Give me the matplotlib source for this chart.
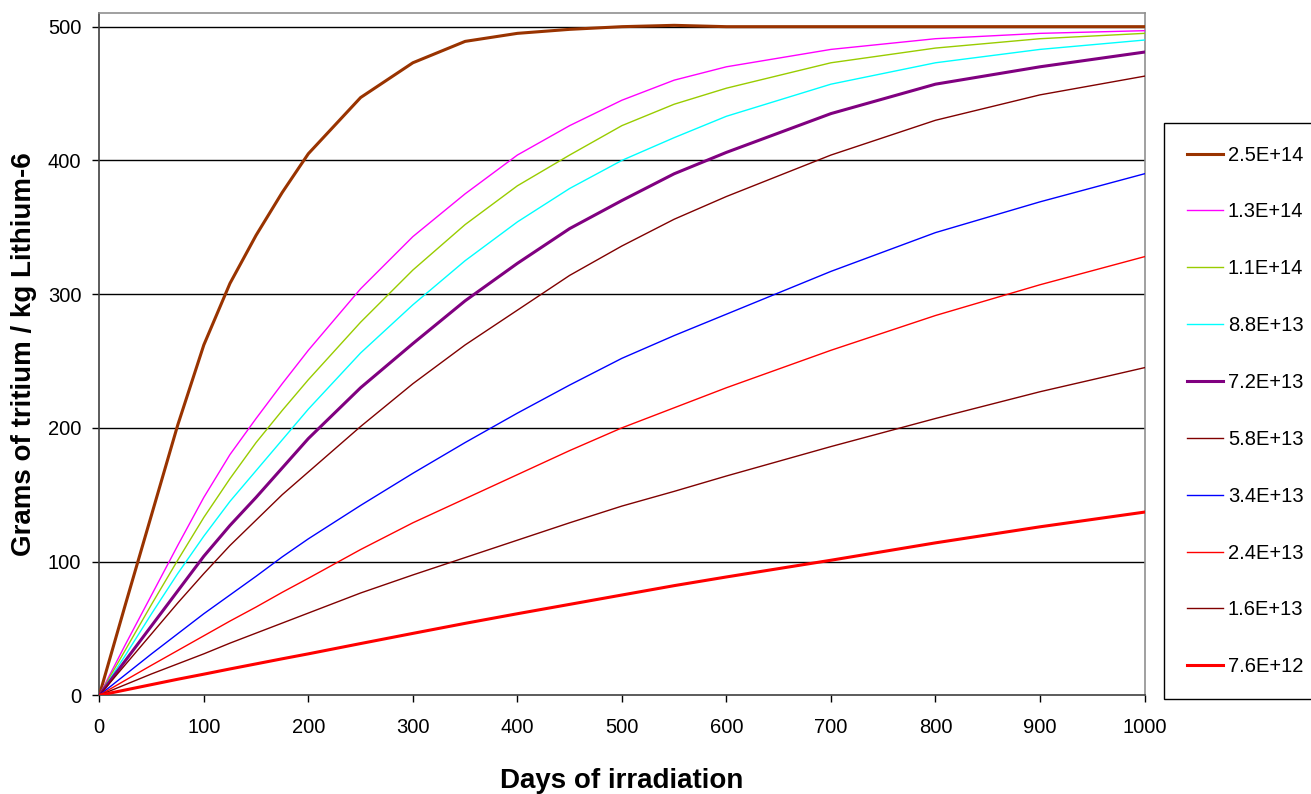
import matplotlib
matplotlib.use('Agg')
import matplotlib.pyplot as plt

plt.rcParams['font.family'] = ['Liberation Sans', 'DejaVu Sans']

# irradiation time (days) and grams of tritium per kg Li-6, one list per neutron flux
days = [0, 25, 50, 75, 100, 125, 150, 175, 200, 250, 300, 350, 400, 450, 500,
        550, 600, 700, 800, 900, 1000]

flux_2_5e14 = [0, 68, 135, 202, 262, 308, 344, 376, 405, 447, 473, 489, 495, 498, 500, 501, 500, 500, 500, 500, 500]
flux_1_3e14 = [0, 38, 75, 112, 148, 180, 207, 233, 258, 304, 343, 375, 404, 426, 445, 460, 470, 483, 491, 495, 497]
flux_1_1e14 = [0, 34, 68, 101, 133, 162, 189, 213, 236, 279, 318, 352, 381, 404, 426, 442, 454, 473, 484, 491, 495]
flux_8_8e13 = [0, 30, 61, 91, 119, 145, 168, 191, 214, 256, 292, 325, 354, 379, 400, 417, 433, 457, 473, 483, 490]
flux_7_2e13 = [0, 26, 52, 78, 104, 127, 148, 170, 192, 230, 263, 295, 323, 349, 370, 390, 406, 435, 457, 470, 481]
flux_5_8e13 = [0, 23, 46, 69, 91, 112, 131, 150, 167, 201, 233, 262, 288, 314, 336, 356, 373, 404, 430, 449, 463]
flux_3_4e13 = [0, 15.5, 31, 46, 61, 75, 89, 103.5, 117, 142, 166, 189, 211, 232, 252, 269, 285, 317, 346, 369, 390]
flux_2_4e13 = [0, 11.3, 22.5, 33.5, 44.5, 55.5, 66, 77, 87.5, 109, 129, 147, 165, 183, 200, 215, 230, 258, 284, 307, 328]
flux_1_6e13 = [0, 8, 16, 23.5, 31, 39, 46.5, 54, 61.5, 76.5, 90, 103, 116, 129, 141.5, 152.5, 164, 186, 207, 227, 245]
flux_7_6e12 = [0, 4, 8, 12, 15.8, 19.7, 23.5, 27.3, 31, 38.7, 46.3, 53.8, 61, 68, 75, 82, 88.5, 101, 114, 126, 137]

labels = ['2.5E+14', '1.3E+14', '1.1E+14', '8.8E+13', '7.2E+13',
          '5.8E+13', '3.4E+13', '2.4E+13', '1.6E+13', '7.6E+12']
series = [flux_2_5e14, flux_1_3e14, flux_1_1e14, flux_8_8e13, flux_7_2e13,
          flux_5_8e13, flux_3_4e13, flux_2_4e13, flux_1_6e13, flux_7_6e12]
colors = ['#993300', '#FF00FF', '#99CC00', '#00FFFF', '#800080',
          '#800000', '#0000FF', '#FF0000', '#800000', '#FF0000']
widths = [2.2, 1.0, 1.0, 1.0, 2.2, 1.0, 1.0, 1.0, 1.0, 2.2]

fig = plt.figure(figsize=(13.11, 7.94), dpi=100)
ax = fig.add_axes([99.3 / 1311, 98.7 / 794, 1045.2 / 1311, 682.0 / 794])

for y in [100, 200, 300, 400, 500]:
    ax.axhline(y, color='black', lw=1.0, zorder=1)

handles = []
for vals, lab, c, w in zip(series, labels, colors, widths):
    h, = ax.plot(days, vals, color=c, lw=w, label=lab, zorder=3)
    handles.append(h)

ax.set_xlim(0, 1000)
ax.set_ylim(0, 510)
ax.set_xticks(range(0, 1001, 100))
ax.set_yticks(range(0, 501, 100))
ax.tick_params(axis='both', labelsize=14.5, direction='out', length=5,
               width=1, color='black')
ax.tick_params(axis='x', pad=11)
ax.tick_params(axis='y', pad=8)

for side in ['left', 'bottom']:
    ax.spines[side].set_color('#404040')
    ax.spines[side].set_linewidth(1.2)
for side in ['top', 'right']:
    ax.spines[side].set_color('#909090')
    ax.spines[side].set_linewidth(1.2)

ax.set_xlabel('Days of irradiation', fontsize=20, fontweight='bold', labelpad=23)
ax.set_ylabel('Grams of tritium / kg Lithium-6', fontsize=20, fontweight='bold',
              labelpad=8)

leg = fig.legend(handles=handles, loc='upper left',
                 bbox_to_anchor=(1164 / 1311, 1 - 123 / 794),
                 fontsize=14.5, frameon=True, fancybox=False, framealpha=1,
                 edgecolor='black', handlelength=1.8, handletextpad=0.25,
                 labelspacing=1.88, borderpad=1.12, borderaxespad=0)
leg.get_frame().set_linewidth(1.0)

fig.savefig('out.png', dpi=100)
